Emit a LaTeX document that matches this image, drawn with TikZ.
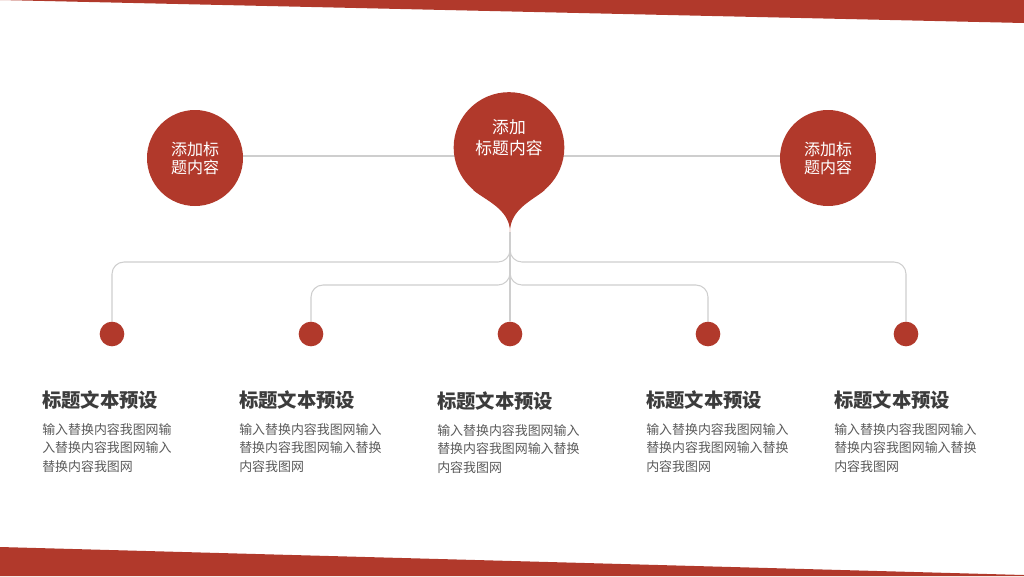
\documentclass[tikz,border=0pt]{standalone}
\usepackage{fontspec}
\newfontfamily\cjk{Noto Sans CJK SC}
\usepackage{xcolor}
\usepackage{tikz}
\usetikzlibrary{
    positioning,
    backgrounds,
    calc
}
\definecolor{brickred}{RGB}{177,57,43}
\definecolor{linegray}{RGB}{206,206,206}
\definecolor{titlegray}{RGB}{60,60,60}
\definecolor{bodygray}{RGB}{90,90,90}
\tikzset{
    sidecircle/.style={
        circle, fill=brickred, text=white,
        minimum size=72pt, inner sep=0pt, align=center,
        font=\cjk\fontsize{12pt}{13.5pt}\selectfont
    },
    pincircle/.style={
        circle, fill=brickred,
        minimum size=83pt, inner sep=0pt
    },
    pintext/.style={
        text=white, align=center, inner sep=0pt,
        font=\cjk\fontsize{12.6pt}{15.6pt}\selectfont
    },
    smalldot/.style={
        circle, fill=brickred, minimum size=18.5pt, inner sep=0pt
    },
    itemtitle/.style={
        anchor=west, inner sep=0pt, text=titlegray,
        font=\cjk\bfseries\fontsize{14.5pt}{16pt}\selectfont
    },
    itembody/.style={
        anchor=north west, inner sep=0pt, align=left, text=bodygray,
        font=\cjk\fontsize{9.7pt}{13.9pt}\selectfont
    },
    link/.style={
        draw=linegray, line width=0.8pt
    }
}

\begin{document}
\begin{tikzpicture}[
    x=0.75pt, y=-0.75pt,
    node distance=6pt and 6pt,
    branch/.style={link, rounded corners=9pt}
]
    \useasboundingbox (0,0) rectangle (1024,576);

    % --- BANDS ---
    \fill[brickred] (0,0) -- (1024,0) -- (1024,23) -- cycle;
    \fill[brickred] (0,547) -- (1024,575) -- (1024,576) -- (0,576) -- cycle;

    % --- TOP ROW ---
    \node[sidecircle] (left) at (195,158) {添加标\\题内容};
    \node[sidecircle] (right) at (828,158) {添加标\\题内容};
    \node[pincircle] (pin) at (509,147.5) {};
    \coordinate (tip) at (510,232);
    \fill[brickred] (pin.-130) .. controls +(-40:12pt) and +(0pt,17pt) .. (tip)
        .. controls +(0pt,17pt) and +(-140:12pt) .. (pin.-50) -- (pin.center) -- cycle;
    \node[pintext] (pinlabel) at (509,137.5) {添加\\标题内容};

    % --- DOTS ---
    \node[smalldot] (d1) at (112,334) {};
    \node[smalldot] (d2) at (311,334) {};
    \node[smalldot] (d3) at (510,334) {};
    \node[smalldot] (d4) at (708,334) {};
    \node[smalldot] (d5) at (906,334) {};

    \coordinate (outer) at (510,262);
    \coordinate (inner) at (510,285);

    % --- TEXT BLOCKS ---
    \node[itemtitle] (t1) at (42,400) {标题文本预设};
    \node[itemtitle] (t2) at (239,400) {标题文本预设};
    \node[itemtitle] (t3) at (437,401) {标题文本预设};
    \node[itemtitle] (t4) at (646,400) {标题文本预设};
    \node[itemtitle] (t5) at (834,400) {标题文本预设};

    \node[itembody, below=10pt of t1.south west, anchor=north west] (b1) {输入替换内容我图网输\\入替换内容我图网输入\\替换内容我图网};
    \node[itembody, below=10pt of t2.south west, anchor=north west] (b2) {输入替换内容我图网输入\\替换内容我图网输入替换\\内容我图网};
    \node[itembody, below=10pt of t3.south west, anchor=north west] (b3) {输入替换内容我图网输入\\替换内容我图网输入替换\\内容我图网};
    \node[itembody, below=10pt of t4.south west, anchor=north west] (b4) {输入替换内容我图网输入\\替换内容我图网输入替换\\内容我图网};
    \node[itembody, below=10pt of t5.south west, anchor=north west] (b5) {输入替换内容我图网输入\\替换内容我图网输入替换\\内容我图网};

    % --- CONNECTORS ---
    \begin{scope}[on background layer]
        \draw[link] ([yshift=1.5pt]left.east) -- ([yshift=1.5pt]right.west);
        \draw[branch] (tip) -- (outer) -- (outer -| d1) -- (d1);
        \draw[branch] (tip) -- (outer) -- (outer -| d5) -- (d5);
        \draw[branch] (tip) -- (inner) -- (inner -| d2) -- (d2);
        \draw[branch] (tip) -- (inner) -- (inner -| d4) -- (d4);
        \draw[link] (tip) -- (d3);
    \end{scope}

\end{tikzpicture}
\end{document}
